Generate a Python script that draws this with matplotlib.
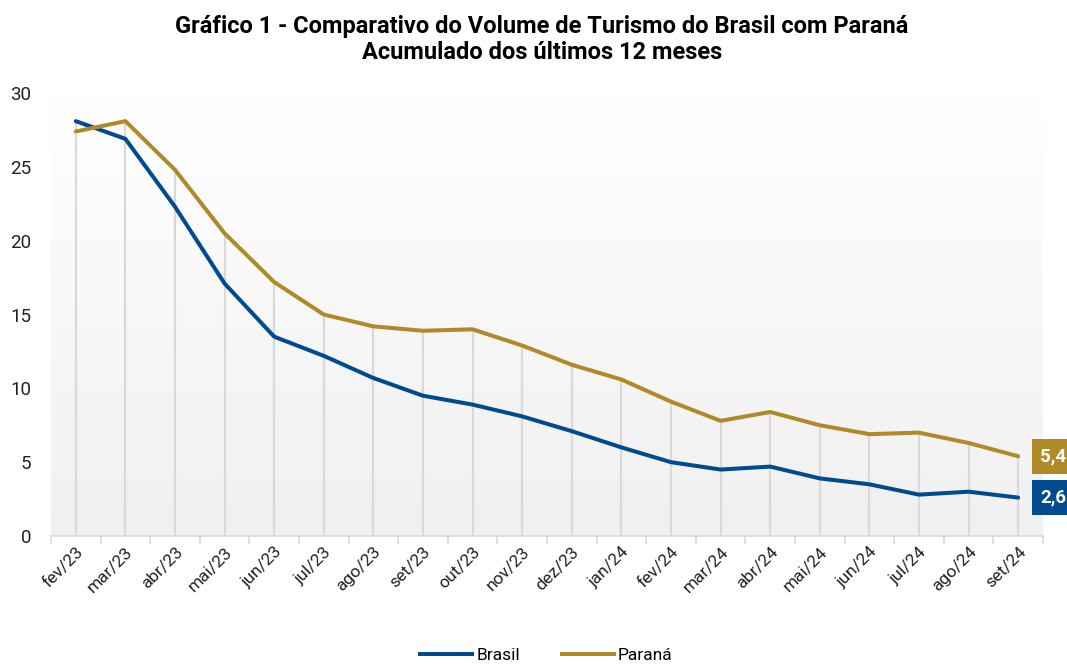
import numpy as np
import matplotlib.pyplot as plt
from matplotlib.lines import Line2D
from matplotlib.colors import LinearSegmentedColormap

plt.rcParams['font.family'] = ['Roboto', 'DejaVu Sans']

# Data
meses = ['fev/23', 'mar/23', 'abr/23', 'mai/23', 'jun/23', 'jul/23', 'ago/23', 'set/23',
         'out/23', 'nov/23', 'dez/23', 'jan/24', 'fev/24', 'mar/24', 'abr/24', 'mai/24',
         'jun/24', 'jul/24', 'ago/24', 'set/24']
brasil = [28.1, 26.9, 22.3, 17.1, 13.5, 12.2, 10.7, 9.5, 8.9, 8.1, 7.1, 6.0, 5.0, 4.5,
          4.7, 3.9, 3.5, 2.8, 3.0, 2.6]
parana = [27.4, 28.1, 24.8, 20.5, 17.2, 15.0, 14.2, 13.9, 14.0, 12.9, 11.6, 10.6, 9.1,
          7.8, 8.4, 7.5, 6.9, 7.0, 6.3, 5.4]

azul = '#004A8F'
dourado = '#B08A28'

x = np.arange(len(meses))

fig = plt.figure(figsize=(10.67, 6.64), dpi=100)
ax = fig.add_axes([0.0478, 0.1928, 0.9297, 0.667])

# gradient background (white at top, light grey at bottom)
grad = np.linspace(1.0, 0.0, 256).reshape(-1, 1)
cmap = LinearSegmentedColormap.from_list('g', ['#f0f0f0', '#ffffff'])
ax.imshow(grad, extent=[0, 1, 0, 1], transform=ax.transAxes, aspect='auto',
          cmap=cmap, zorder=0)

# drop lines
topo = np.maximum(brasil, parana)
ax.vlines(x, 0, topo, color='#d9d9d9', linewidth=1.6, zorder=1)

ax.plot(x, brasil, color=azul, linewidth=2.9, solid_capstyle='round', zorder=3)
ax.plot(x, parana, color=dourado, linewidth=2.9, solid_capstyle='round', zorder=3)

ax.set_xlim(-0.5, len(meses) - 0.5)
ax.set_ylim(0, 30)
ax.set_yticks([0, 5, 10, 15, 20, 25, 30])
ax.tick_params(axis='y', length=0, labelsize=13.5, pad=14, labelcolor='#222222')

ax.set_xticks(x)
ax.set_xticklabels(meses, rotation=45, ha='right', rotation_mode='anchor', fontsize=12.5,
                   color='#222222')
ax.tick_params(axis='x', which='major', length=0, pad=6)
ax.set_xticks(np.arange(-0.5, len(meses)), minor=True)
ax.tick_params(axis='x', which='minor', length=6, width=1.2, color='#d9d9d9')

for s in ['top', 'right', 'left']:
    ax.spines[s].set_visible(False)
ax.spines['bottom'].set_color('#d9d9d9')
ax.spines['bottom'].set_linewidth(1.2)

# end labels
ax.text(19.44, parana[-1], f"{parana[-1]:.1f}".replace('.', ','), color='white',
        fontsize=13.5, fontweight='bold', va='center', ha='left', clip_on=False,
        bbox=dict(boxstyle='square,pad=0.45', facecolor=dourado, edgecolor='none'))
ax.text(19.44, brasil[-1], f"{brasil[-1]:.1f}".replace('.', ','), color='white',
        fontsize=13.5, fontweight='bold', va='center', ha='left', clip_on=False,
        bbox=dict(boxstyle='square,pad=0.45', facecolor=azul, edgecolor='none'))

fig.text(0.508, 0.978, 'Gráfico 1 - Comparativo do Volume de Turismo do Brasil com Paraná\n'
         'Acumulado dos últimos 12 meses', ha='center', va='top', fontsize=17,
         fontweight='bold', linespacing=1.2)

handles = [Line2D([0], [0], color=azul, linewidth=2.9),
           Line2D([0], [0], color=dourado, linewidth=2.9)]
fig.legend(handles, ['Brasil', 'Paraná'], loc='lower center', bbox_to_anchor=(0.512, -0.022),
           ncol=2, frameon=False, fontsize=12.5, handlelength=3.0, handletextpad=0.25,
           columnspacing=2.4)

fig.savefig('out.png', dpi=100)
